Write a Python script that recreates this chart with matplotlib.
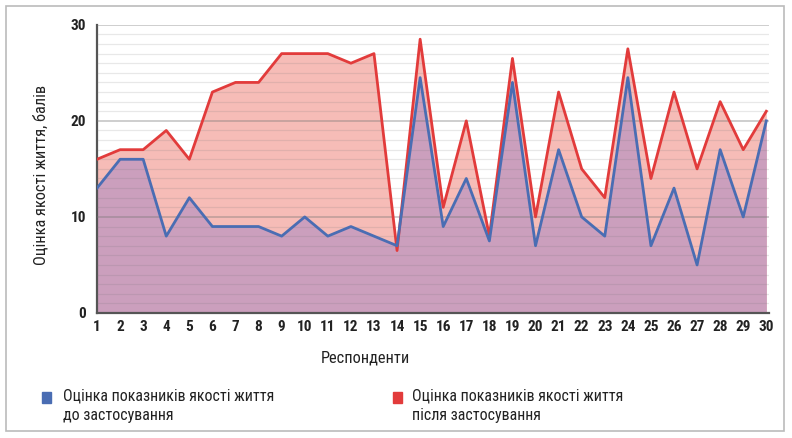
import matplotlib
matplotlib.use('agg')
import matplotlib.pyplot as plt
from matplotlib.patches import Rectangle

plt.rcParams['font.family'] = ['Roboto Condensed', 'DejaVu Sans']

respondents = list(range(1, 31))
before = [13, 16, 16, 8, 12, 9, 9, 9, 8, 10, 8, 9, 8, 7, 24.5,
          9, 14, 7.5, 24, 7, 17, 10, 8, 24.5, 7, 13, 5, 17, 10, 20]
after = [16, 17, 17, 19, 16, 23, 24, 24, 27, 27, 27, 26, 27, 6.5, 28.5,
         11, 20, 8, 26.5, 10, 23, 15, 12, 27.5, 14, 23, 15, 22, 17, 21]
yticks = [0, 10, 20, 30]

label_before = 'Оцінка показників якості життя\nдо застосування'
label_after = 'Оцінка показників якості життя\nпісля застосування'

red = '#e23b3b'
blue = '#4a6db3'
text_c = '#222222'

fig = plt.figure(figsize=(7.92, 4.38), dpi=100)
ax = fig.add_axes([0.1225, 0.2854, 0.848, 0.658])

ax.fill_between(respondents, 0, after, color='#f6bcb7', lw=0, zorder=1)
ax.fill_between(respondents, 0, before, color='#cb9fbd', lw=0, zorder=2)

# dense horizontal grid, drawn over the fills
for y in range(1, 31):
    major = y % 10 == 0
    ax.axhline(y, color=(0.45, 0.45, 0.45, 0.35 if major else 0.16),
               lw=1.4 if major else 0.9, zorder=3)

ax.plot(respondents, after, color=red, lw=2, zorder=4)
ax.plot(respondents, before, color=blue, lw=2, zorder=5)

ax.set_xlim(1, 30.1)
ax.set_ylim(0, 30)
ax.set_xticks(respondents)
ax.set_yticks(yticks)
ax.tick_params(length=0, labelsize=11, labelcolor=text_c, pad=5)
ax.tick_params(axis='y', pad=8)
for lab in ax.get_xticklabels() + ax.get_yticklabels():
    lab.set_fontweight('bold')

for s in ['top', 'right']:
    ax.spines[s].set_visible(False)
for s in ['left', 'bottom']:
    ax.spines[s].set_color('#555555')
    ax.spines[s].set_linewidth(1.6)

ax.set_xlabel('Респонденти', fontsize=11.8, color=text_c, labelpad=12)
ax.xaxis.label.set_x(0.40)
ax.set_ylabel('Оцінка якості життя, балів', fontsize=11.8, color=text_c,
              labelpad=16)
ax.yaxis.label.set_y(0.48)

# legend
fig.patches.append(Rectangle((0.053, 0.079), 0.012, 0.025, color=blue,
                             transform=fig.transFigure, figure=fig))
fig.text(0.08, 0.113, label_before, fontsize=11.5, color=text_c,
         va='top', linespacing=1.35)
fig.patches.append(Rectangle((0.496, 0.079), 0.012, 0.025, color=red,
                             transform=fig.transFigure, figure=fig))
fig.text(0.52, 0.113, label_after, fontsize=11.5, color=text_c,
         va='top', linespacing=1.35)

# outer frame
fig.patches.append(Rectangle((0.008, 0.016), 0.982, 0.97, fill=False,
                             edgecolor='#bbbbbb', lw=1.2,
                             transform=fig.transFigure, figure=fig))

fig.savefig('out.png', dpi=100)
